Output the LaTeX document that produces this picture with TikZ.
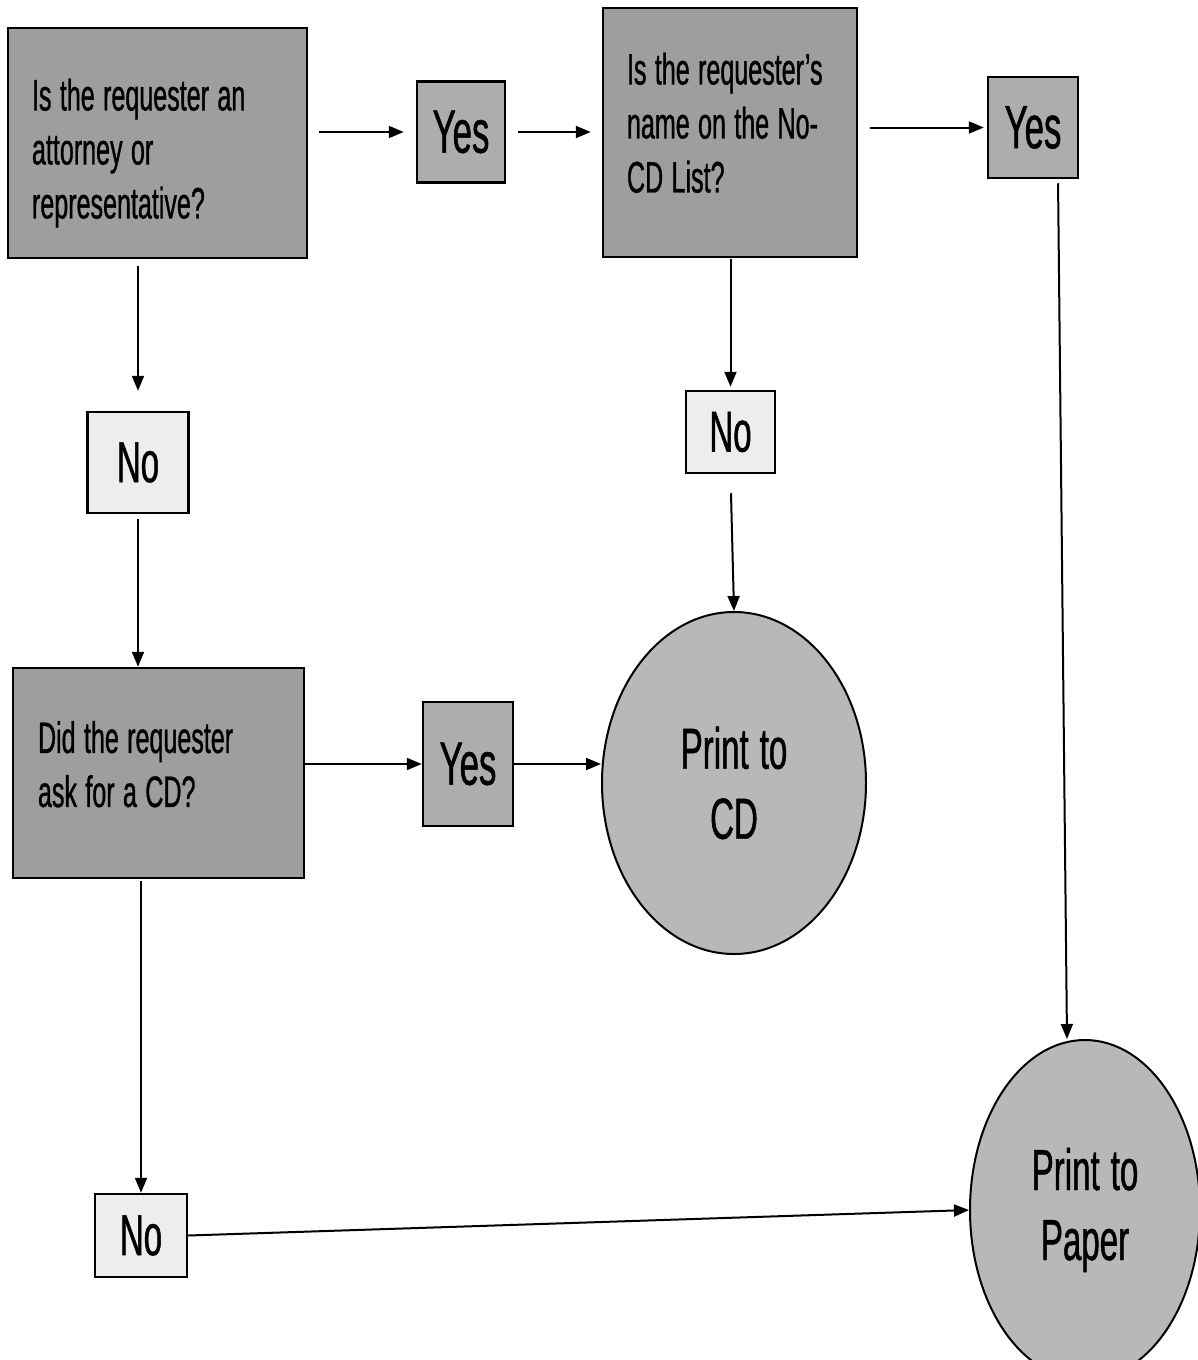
\documentclass[tikz,border=0pt]{standalone}
\usepackage{fontspec}
\newfontfamily\narrowsans[FakeStretch=0.57,WordSpace=1.2,FakeBold=0.8]{Liberation Sans}
\usetikzlibrary{arrows.meta,shapes.geometric}
\definecolor{qfill}{gray}{0.62}
\definecolor{yfill}{gray}{0.68}
\definecolor{nfill}{gray}{0.93}
\definecolor{cfill}{gray}{0.72}
% use the font's own (narrow) interword space inside ragged paragraphs
\newcommand\fontspaces{\spaceskip=\fontdimen2\font\xspaceskip=\fontdimen2\font\relax}
\begin{document}
\begin{tikzpicture}[x=1pt,y=-1pt,
  question/.style={draw, line width=2.5pt, fill=qfill, rectangle, inner ysep=0pt,
    align=left, font=\narrowsans\fontsize{44}{54}\selectfont},
  yesbox/.style={draw, line width=2.5pt, fill=yfill, rectangle, inner sep=0pt,
    font=\narrowsans\fontsize{61}{70}\selectfont},
  nobox/.style={draw, line width=2.5pt, fill=nfill, rectangle, inner sep=0pt,
    font=\narrowsans\fontsize{58}{70}\selectfont},
  outcome/.style={draw, line width=2pt, fill=cfill, ellipse, inner sep=0pt,
    align=center, font=\narrowsans\fontsize{58}{70}\selectfont},
  conn/.style={line width=2pt, -{Triangle[length=15pt,width=12pt]}}]
\useasboundingbox (0,0) rectangle (1198,1360);

% decision boxes (invisible struts nudge the text block up or down)
\node[question, minimum width=299pt, minimum height=230pt, inner xsep=24pt, text width=251pt]
  (qatt) at (157.5,143) {\fontspaces\rule{0pt}{52pt}Is the requester an\\attorney or\\representative?};
\node[question, minimum width=254pt, minimum height=249pt, inner xsep=24pt, text width=206pt]
  (qlist) at (730,132.5) {\fontspaces Is the requester’s\\name on the No-\\CD List?\rule[-20pt]{0pt}{20pt}};
\node[question, minimum width=291pt, minimum height=210pt, inner xsep=25pt, text width=241pt]
  (qcd) at (158.5,773) {\fontspaces Did the requester\\ask for a CD?\rule[-18pt]{0pt}{18pt}};

% answer boxes
\node[yesbox, minimum width=88pt, minimum height=101pt] (yes1) at (461,132) {Yes};
\node[yesbox, minimum width=90pt, minimum height=101pt] (yes2) at (1033,127.5) {Yes};
\node[yesbox, minimum width=90pt, minimum height=124pt] (yes3) at (468,764) {Yes};
\node[nobox, minimum width=101pt, minimum height=101pt] (no1) at (138,462.5) {No};
\node[nobox, minimum width=89pt, minimum height=82pt] (no2) at (730.5,432) {No};
\node[nobox, minimum width=92pt, minimum height=83pt] (no3) at (141,1235.5) {No};

% outcomes
\node[outcome, minimum width=264pt, minimum height=342pt] (cd) at (734,783) {Print to\\CD};
\node[outcome, minimum width=230pt, minimum height=340pt] (paper) at (1085,1210) {Print to\\Paper};

% connectors
\draw[conn, shorten <=11pt, shorten >=12pt] (qatt.east |- yes1.west) -- (yes1.west);
\draw[conn, shorten <=12pt, shorten >=11pt] (yes1.east) -- (yes1.east -| qlist.west);
\draw[conn, shorten <=12pt, shorten >=3pt] (qlist.east |- yes2.west) -- (yes2.west);
\draw[conn, shorten <=4pt] ([xshift=25pt]yes2.south) -- ([xshift=-18pt]paper.north);
\draw[conn, shorten <=7pt, shorten >=20pt] (no1.north |- qatt.south) -- (no1.north);
\draw[conn, shorten <=5pt] (no1.south) -- (no1.south |- qcd.north);
\draw[conn] (qcd.east |- yes3.west) -- (yes3.west);
\draw[conn] (yes3.east) -- (yes3.east -| cd.west);
\draw[conn, shorten <=1pt, shorten >=3pt] (qlist.south -| no2.north) -- (no2.north);
\draw[conn, shorten <=19pt] (no2.south) -- (cd.north);
\draw[conn, shorten <=2pt] (no3.north |- qcd.south) -- (no3.north);
\draw[conn] (no3.east) -- (paper.west);
\end{tikzpicture}
\end{document}
